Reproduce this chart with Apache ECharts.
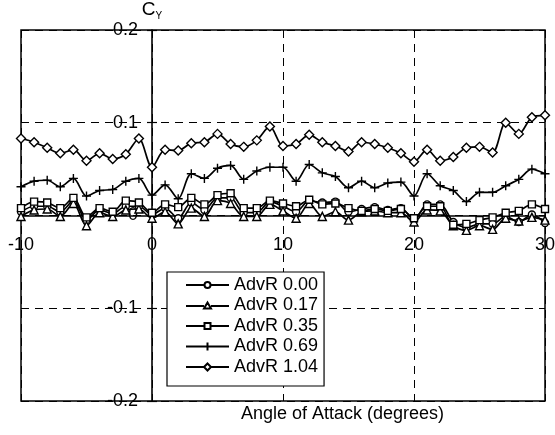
<!DOCTYPE html>
<html><head><meta charset="utf-8">
<script src="https://cdn.jsdelivr.net/npm/echarts@6/dist/echarts.min.js"></script>
<style>html,body{margin:0;padding:0;background:#fff}#c{width:555px;height:435px}</style>
</head><body><div id="c"></div>
<script>
var angles = [-10,-9,-8,-7,-6,-5,-4,-3,-2,-1,0,1,2,3,4,5,6,7,8,9,10,11,12,13,14,15,16,17,18,19,20,21,22,23,24,25,26,27,28,29,30];
var seriesNames = ['AdvR 0.00','AdvR 0.17','AdvR 0.35','AdvR 0.69','AdvR 1.04'];
var cy000 = [0.004,0.010,0.010,0.004,0.016,-0.005,0.006,0.002,0.010,0.010,
             0.001,0.008,-0.003,0.014,0.006,0.019,0.019,0.003,0.003,0.015,
             0.010,0.004,0.016,0.014,0.015,0.004,0.007,0.009,0.006,0.008,
             -0.005,0.012,0.012,-0.007,-0.013,-0.009,-0.009,-0.001,-0.007,0.001,-0.008];
var cy017 = [-0.001,0.006,0.007,-0.001,0.013,-0.011,0.003,-0.001,0.006,0.007,
             -0.003,0.004,-0.009,0.008,-0.001,0.016,0.013,-0.001,-0.001,0.012,
             0.005,-0.003,0.013,-0.001,0.004,-0.005,0.004,0.005,0.003,0.003,
             -0.007,0.006,0.005,-0.011,-0.016,-0.011,-0.015,-0.003,-0.006,-0.002,-0.005];
var cy035 = [0.008,0.015,0.014,0.008,0.019,-0.002,0.008,0.004,0.016,0.014,
             0.003,0.012,0.009,0.019,0.012,0.022,0.024,0.008,0.008,0.016,
             0.013,0.010,0.017,0.012,0.013,0.008,0.005,0.007,0.005,0.007,
             -0.003,0.010,0.010,-0.010,-0.009,-0.005,-0.002,0.003,0.005,0.012,0.007];
var cy069 = [0.031,0.037,0.038,0.031,0.040,0.021,0.027,0.028,0.037,0.040,
             0.022,0.033,0.018,0.045,0.040,0.051,0.054,0.039,0.048,0.052,
             0.052,0.037,0.055,0.046,0.042,0.030,0.037,0.030,0.035,0.036,
             0.021,0.045,0.032,0.027,0.015,0.025,0.025,0.032,0.039,0.050,0.045];
var cy104 = [0.083,0.079,0.073,0.067,0.071,0.059,0.067,0.061,0.066,0.083,
             0.052,0.071,0.070,0.078,0.079,0.088,0.077,0.074,0.081,0.096,
             0.075,0.077,0.087,0.079,0.075,0.069,0.079,0.077,0.073,0.067,
             0.058,0.071,0.059,0.063,0.073,0.074,0.068,0.100,0.088,0.106,0.108];
var xTicks = [-10,0,10,20,30];
var yTicks = [-0.2,-0.1,0,0.1,0.2];
var xTitle = 'Angle of Attack (degrees)';

var allValues = [cy000, cy017, cy035, cy069, cy104];
var symbols = ['circle','triangle','rect','path://M0,5 L10,5 M5,0 L5,10','diamond'];
var sizes = [7,8,7,9,9];
var legendIcons = [
  'path://M0,7 L18.5,7 M24.5,7 L43,7 M18.5,7 A3,3 0 1,1 24.5,7 A3,3 0 1,1 18.5,7 Z',
  'path://M0,7 L18,7 M25,7 L43,7 M21.5,3.5 L25,9.5 L18,9.5 Z',
  'path://M0,7 L18.5,7 M24.5,7 L43,7 M18.5,4 L24.5,4 L24.5,10 L18.5,10 Z',
  'path://M0,7 L43,7 M21.5,3 L21.5,11',
  'path://M0,7 L18,7 M25,7 L43,7 M21.5,3.5 L25,7 L21.5,10.5 L18,7 Z'
];

function pairs(vals){ return angles.map(function(a,i){ return [a, vals[i]]; }); }

var W = 555, H = 435, gL = 21, gR = 10, gT = 30, gB = 34;
var gW = W - gL - gR, gH = H - gT - gB;
var yAxisOffset = -gW * (0 - xTicks[0]) / (xTicks[xTicks.length-1] - xTicks[0]);
var xAxisOffset = -gH * (0 - yTicks[0]) / (yTicks[yTicks.length-1] - yTicks[0]);

var font = 'Liberation Sans, Arial, sans-serif';
var series = allValues.map(function(v,i){
  return {
    name: seriesNames[i], type: 'line', data: pairs(v), smooth: 0.3,
    symbol: symbols[i], symbolSize: sizes[i], showAllSymbol: true,
    lineStyle: {color:'#000', width:1.7},
    itemStyle: {color: '#fff', borderColor:'#000', borderWidth:1.4},
    emphasis: {disabled:true}, z: 3
  };
});

var chart = echarts.init(document.getElementById('c'), null, {renderer:'canvas'});
chart.setOption({
  animation: false,
  backgroundColor: '#fff',
  grid: {left: gL, right: gR, top: gT, bottom: gB, show: true, borderColor:'#000', borderWidth:1.5,
         backgroundColor:'transparent', containLabel:false, outerBoundsMode:'none'},
  xAxis: {
    type: 'value', min: xTicks[0], max: xTicks[xTicks.length-1], interval: 10,
    position: 'bottom', offset: xAxisOffset,
    axisLine: {onZero: false, lineStyle:{color:'#000', width:1.6}},
    axisTick: {show:true, length:5, lineStyle:{color:'#000'}},
    axisLabel: {color:'#000', fontFamily: font, fontSize: 18, margin: 21},
    splitLine: {show:true, lineStyle:{color:'#000', type:[8,6], width:1}}
  },
  yAxis: [{
    type: 'value', min: yTicks[0], max: yTicks[yTicks.length-1], interval: 0.1,
    position: 'left', offset: yAxisOffset,
    axisLine: {onZero: false, lineStyle:{color:'#000', width:1.6}},
    axisTick: {show:true, length:5, lineStyle:{color:'#000', width:1.2}},
    axisLabel: {color:'#000', fontFamily: font, fontSize: 18, margin: 14},
    splitLine: {show:true, lineStyle:{color:'#000', type:[8,6], width:1}},
    name: '{c|C}{s|Y}', nameLocation: 'end', nameGap: 4,
    nameTextStyle: {rich: {c:{fontFamily: font, fontSize: 19, color:'#000'}, s:{fontFamily: font, fontSize: 10, color:'#000', verticalAlign:'bottom', padding:[12,0,0,0]}}}
  },{
    type: 'value', min: yTicks[0], max: yTicks[yTicks.length-1], interval: 0.1,
    position: 'left', offset: yAxisOffset,
    axisLine: {show:false, onZero:false},
    axisTick: {show:true, inside:true, length:5, lineStyle:{color:'#000', width:1.2}},
    axisLabel: {show:false}, splitLine: {show:false}
  }],
  graphic: [{
    type: 'text', left: 241, top: 405, silent: true,
    style: {text: xTitle, fill:'#000', font: '18px ' + font}
  }],
  legend: {
    orient: 'vertical', left: 167, top: 272,
    data: seriesNames.map(function(n,i){ return {name:n, icon: legendIcons[i]}; }),
    itemWidth: 43, itemHeight: 14, itemGap: 2.5,
    padding: [4, 6, 10, 18],
    borderColor: '#000', borderWidth: 1.2, backgroundColor: '#fff',
    textStyle: {color:'#000', fontFamily: font, fontSize: 18},
    selectedMode: false
  },
  series: series
});
</script></body></html>
